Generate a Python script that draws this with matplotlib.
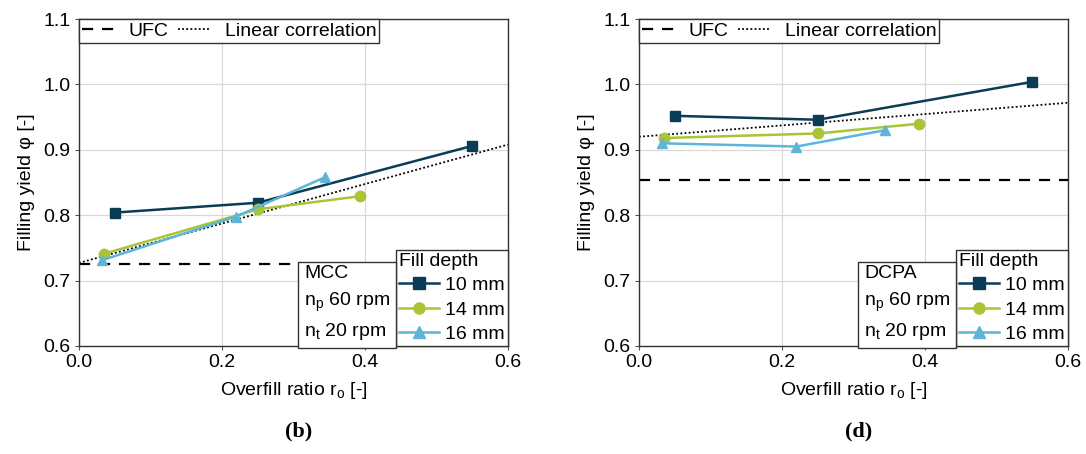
import matplotlib
matplotlib.use("Agg")
import matplotlib.pyplot as plt
from matplotlib.lines import Line2D

plt.rcParams["font.family"] = ["Liberation Sans", "DejaVu Sans"]
plt.rcParams["font.size"] = 14

# Fill depth series (overfill ratio, filling yield)
depths = ["10 mm", "14 mm", "16 mm"]
colors = ["#0b3c55", "#a9c537", "#5db5d9"]
markers = ["s", "o", "^"]

mcc_x = [[0.050, 0.250, 0.550], [0.035, 0.250, 0.393], [0.032, 0.220, 0.344]]
mcc_y = [[0.804, 0.819, 0.906], [0.741, 0.809, 0.829], [0.731, 0.798, 0.858]]
mcc_err = [[0.003, 0.003, 0.004], [0.003, 0.003, 0.003], [0.003, 0.004, 0.005]]

dcpa_x = [[0.050, 0.250, 0.550], [0.035, 0.250, 0.392], [0.032, 0.220, 0.344]]
dcpa_y = [[0.952, 0.946, 1.004], [0.918, 0.925, 0.940], [0.910, 0.905, 0.930]]
dcpa_err = [[0.003, 0.003, 0.006], [0.003, 0.003, 0.003], [0.003, 0.003, 0.003]]

# UFC level and linear correlation (values at r_o = 0 and 0.6)
mcc_ufc = 0.726
mcc_lin = [0.727, 0.908]
dcpa_ufc = 0.854
dcpa_lin = [0.920, 0.972]

panels = [
    ("MCC", mcc_x, mcc_y, mcc_err, mcc_ufc, mcc_lin, "(b)"),
    ("DCPA", dcpa_x, dcpa_y, dcpa_err, dcpa_ufc, dcpa_lin, "(d)"),
]

fig = plt.figure(figsize=(10.86, 4.54), dpi=100)
lefts = [0.0727, 0.5884]

for left, (name, xs, ys, errs, ufc, lin, tag) in zip(lefts, panels):
    ax = fig.add_axes([left, 0.238, 0.395, 0.72])

    ax.plot([0, 0.6], [ufc, ufc], color="black", ls=(0, (5, 4)), lw=1.6, zorder=2)
    ax.plot([0, 0.6], lin, color="black", ls=(0, (1, 1.3)), lw=1.3, zorder=2)

    handles = []
    for x, y, e, c, m, lab in zip(xs, ys, errs, colors, markers, depths):
        ax.errorbar(x, y, yerr=e, color=c, marker=m, ms=7.5, lw=1.8,
                    capsize=0, zorder=3)
        handles.append(Line2D([], [], color=c, marker=m, ms=8, lw=1.8, label=lab))

    ax.set_xlim(0, 0.6)
    ax.set_ylim(0.6, 1.1)
    ax.set_xticks([0.0, 0.2, 0.4, 0.6])
    ax.set_yticks([0.6, 0.7, 0.8, 0.9, 1.0, 1.1])
    ax.grid(True, color="#d9d9d9", lw=0.9)
    ax.set_axisbelow(True)
    ax.tick_params(length=3, width=0.8, color="#555555", pad=3)
    for s in ax.spines.values():
        s.set_color("#333333")
        s.set_linewidth(1.0)
    ax.set_xlabel("Overfill ratio r$_\\mathregular{o}$ [-]", labelpad=6)
    ax.set_ylabel("Filling yield φ [-]", labelpad=6)

    top = [Line2D([], [], color="black", ls=(0, (5, 4)), lw=1.6, label="UFC"),
           Line2D([], [], color="black", ls=(0, (1, 1.3)), lw=1.3, label="Linear correlation")]
    leg1 = ax.legend(handles=top, loc="upper left", ncol=2, borderaxespad=0,
                     frameon=True, fancybox=False, edgecolor="#333333",
                     handlelength=1.7, handletextpad=0.7, columnspacing=0.5,
                     borderpad=0.15, framealpha=1)
    leg1.get_frame().set_linewidth(1.0)
    ax.add_artist(leg1)

    leg2 = ax.legend(handles=handles, loc="lower right", title="Fill depth",
                     borderaxespad=0, frameon=True, fancybox=False,
                     edgecolor="#333333", handlelength=2.1, handletextpad=0.3,
                     labelspacing=0.35, borderpad=0.15, framealpha=1,
                     alignment="left")
    leg2.get_frame().set_linewidth(1.0)
    leg2.set_zorder(5)

    ax.text(0.315, 0.606, name + "\nn$_\\mathregular{p}$ 60 rpm\nn$_\\mathregular{t}$ 20 rpm",
            ha="left", va="bottom", linespacing=1.5, zorder=6,
            bbox=dict(boxstyle="square,pad=0.3", fc="white", ec="#333333", lw=1.0))

    fig.text(left + 0.395 / 2 + 0.005, 0.05, tag, ha="center", va="center",
             fontsize=16, family="Liberation Serif", fontweight="bold")

fig.savefig("out.png", dpi=100)
